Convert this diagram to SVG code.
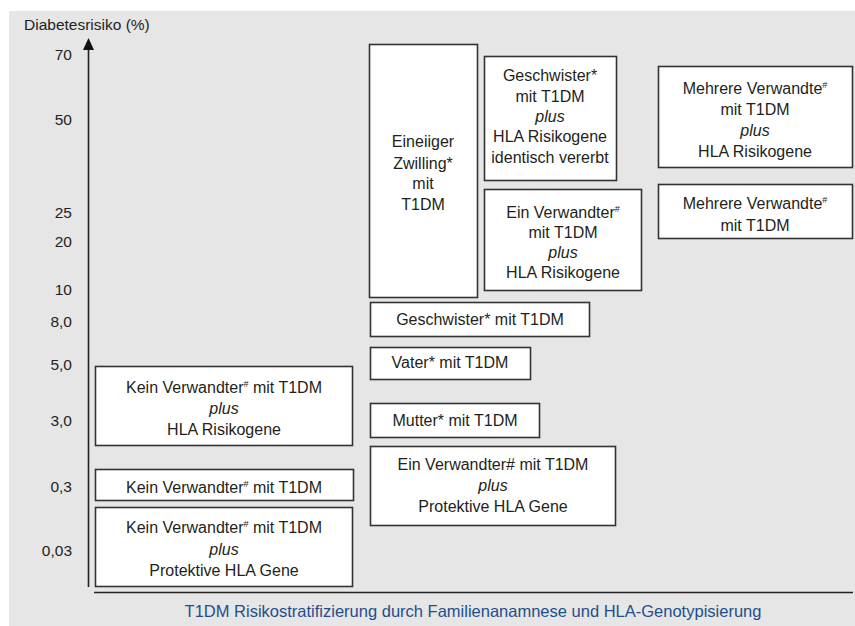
<svg xmlns="http://www.w3.org/2000/svg" width="855" height="626" viewBox="0 0 855 626">
<defs>
<style>
.box{fill:#fff;stroke:#333;stroke-width:1.6}
.t{font-family:"Liberation Sans",Arial,sans-serif;font-size:16px;fill:#231f20;text-anchor:middle}
.i{font-style:italic}
.ax{font-family:"Liberation Sans",Arial,sans-serif;font-size:15.5px;fill:#231f20;text-anchor:end}
.sup{font-size:9px}
</style>
</defs>
<rect x="0" y="0" width="855" height="626" fill="#fff"/>
<rect x="9" y="11" width="846" height="615" fill="#e6e6e6"/>

<g id="axes">
<line x1="88.5" y1="587" x2="88.5" y2="48" stroke="#222" stroke-width="1.6"/>
<polygon points="88.5,38 83,50 94,50" fill="#111"/>
<line x1="94" y1="592.5" x2="853" y2="592.5" stroke="#222" stroke-width="1.6"/>
<text x="24" y="30" class="ax" style="text-anchor:start">Diabetesrisiko (%)</text>
<text x="72" y="60" class="ax">70</text>
<text x="72" y="125" class="ax">50</text>
<text x="72" y="218" class="ax">25</text>
<text x="72" y="247" class="ax">20</text>
<text x="72" y="295" class="ax">10</text>
<text x="72" y="327" class="ax">8,0</text>
<text x="72" y="370" class="ax">5,0</text>
<text x="72" y="426" class="ax">3,0</text>
<text x="72" y="492" class="ax">0,3</text>
<text x="72" y="556" class="ax">0,03</text>
<text x="473" y="617" class="t" style="fill:#1f4e8c;font-size:16.5px">T1DM Risikostratifizierung durch Familienanamnese und HLA-Genotypisierung</text>
</g>

<g id="n-zwilling">
<rect class="box" x="369.5" y="44.5" width="108" height="253"/>
<text class="t" x="423" y="147">Eineiiger</text>
<text class="t" x="423" y="169">Zwilling*</text>
<text class="t" x="423" y="189">mit</text>
<text class="t" x="423" y="210">T1DM</text>
</g>

<g id="n-geschwister-hla">
<rect class="box" x="484.5" y="56.5" width="132" height="124"/>
<text class="t" x="550" y="81">Geschwister*</text>
<text class="t" x="550" y="102">mit T1DM</text>
<text class="t i" x="550" y="122">plus</text>
<text class="t" x="550" y="142">HLA Risikogene</text>
<text class="t" x="550" y="163">identisch vererbt</text>
</g>

<g id="n-einverwandter-hla">
<rect class="box" x="484.5" y="189.5" width="157" height="101"/>
<text class="t" x="563" y="218">Ein Verwandter<tspan class="sup" dy="-6">#</tspan></text>
<text class="t" x="563" y="238">mit T1DM</text>
<text class="t i" x="563" y="258">plus</text>
<text class="t" x="563" y="278">HLA Risikogene</text>
</g>

<g id="n-mehrere-hla">
<rect class="box" x="658.5" y="66.5" width="194" height="101"/>
<text class="t" x="755" y="94">Mehrere Verwandte<tspan class="sup" dy="-6">#</tspan></text>
<text class="t" x="755" y="115">mit T1DM</text>
<text class="t i" x="755" y="136">plus</text>
<text class="t" x="755" y="157">HLA Risikogene</text>
</g>

<g id="n-mehrere">
<rect class="box" x="658.5" y="184.5" width="194" height="54"/>
<text class="t" x="755" y="209">Mehrere Verwandte<tspan class="sup" dy="-6">#</tspan></text>
<text class="t" x="755" y="231">mit T1DM</text>
</g>

<g id="n-geschwister">
<rect class="box" x="370.5" y="302.5" width="219" height="34"/>
<text class="t" x="480" y="325">Geschwister* mit T1DM</text>
</g>

<g id="n-vater">
<rect class="box" x="370.5" y="347.5" width="160" height="32"/>
<text class="t" x="450" y="368">Vater* mit T1DM</text>
</g>

<g id="n-mutter">
<rect class="box" x="370.5" y="403.5" width="169" height="34"/>
<text class="t" x="455" y="426">Mutter* mit T1DM</text>
</g>

<g id="n-einverwandter-prot">
<rect class="box" x="370.5" y="446.5" width="245" height="79"/>
<text class="t" x="493" y="470">Ein Verwandter# mit T1DM</text>
<text class="t i" x="493" y="491">plus</text>
<text class="t" x="493" y="512">Protektive HLA Gene</text>
</g>

<g id="n-kein-hla">
<rect class="box" x="95.5" y="366.5" width="257" height="79"/>
<text class="t" x="224" y="393">Kein Verwandter<tspan class="sup" dy="-6">#</tspan><tspan dy="6"> mit T1DM</tspan></text>
<text class="t i" x="224" y="414">plus</text>
<text class="t" x="224" y="435">HLA Risikogene</text>
</g>

<g id="n-kein">
<rect class="box" x="95.5" y="469.5" width="258" height="31"/>
<text class="t" x="224" y="493">Kein Verwandter<tspan class="sup" dy="-6">#</tspan><tspan dy="6"> mit T1DM</tspan></text>
</g>

<g id="n-kein-prot">
<rect class="box" x="95.5" y="507.5" width="257" height="79"/>
<text class="t" x="224" y="533">Kein Verwandter<tspan class="sup" dy="-6">#</tspan><tspan dy="6"> mit T1DM</tspan></text>
<text class="t i" x="224" y="555">plus</text>
<text class="t" x="224" y="576">Protektive HLA Gene</text>
</g>
</svg>
